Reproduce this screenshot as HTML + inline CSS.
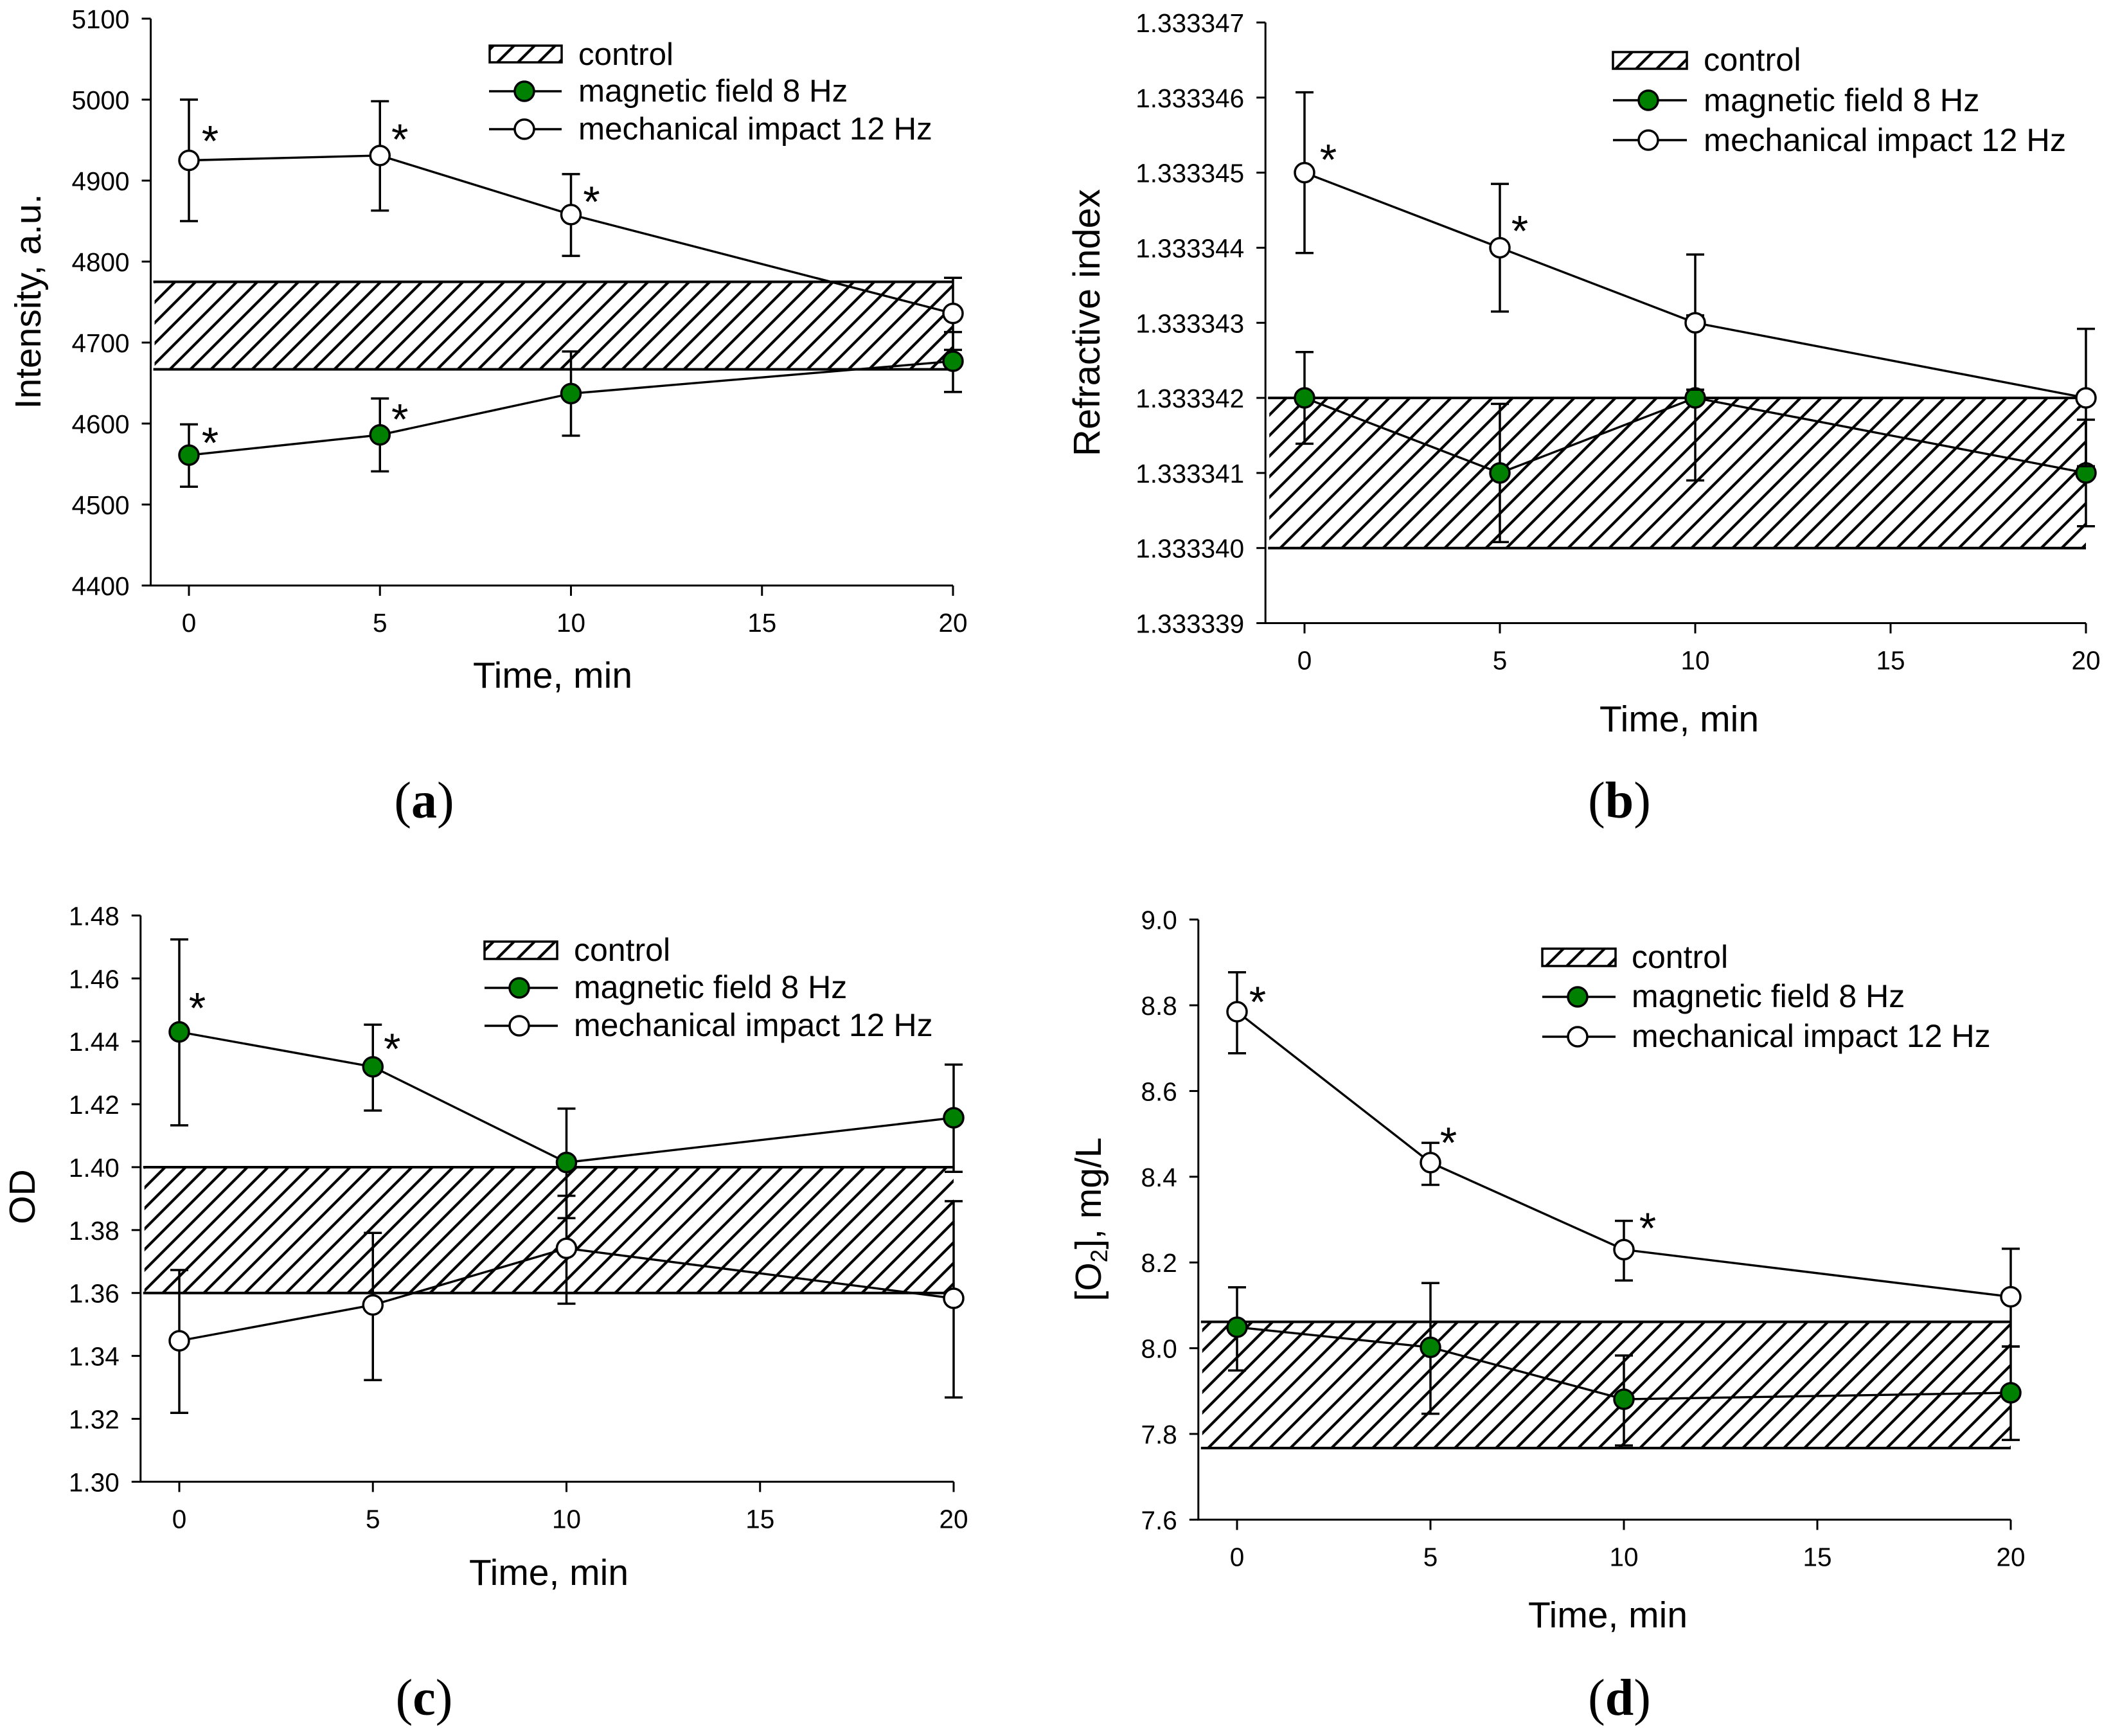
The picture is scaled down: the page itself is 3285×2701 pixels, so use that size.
<!DOCTYPE html>
<html lang="en">
<head>
<meta charset="utf-8">
<title>Time dependence of intensity, refractive index, OD and oxygen</title>
<style>
html,body{margin:0;padding:0;background:#fff;}
svg{display:block;}
text{font-family:"Liberation Sans",Arial,sans-serif;fill:#000;}
.legend{font-size:50px;}
.title{font-size:57px;}
.cap{font-family:"Liberation Serif",serif;font-size:80px;text-anchor:middle;}
.tick{font-size:40.5px;}
.star{font-size:68px;text-anchor:middle;}
</style>
</head>
<body>
<svg xmlns="http://www.w3.org/2000/svg" width="3285" height="2701" viewBox="0 0 3285 2701">
<defs>
<pattern id="hatch-a" patternUnits="userSpaceOnUse" width="32" height="32" patternTransform="translate(7,0)"><path d="M-4 4L4-4M0 32L32 0M28 36L36 28" stroke="#000" stroke-width="4.2" fill="none"/></pattern>
<pattern id="hatch-b" patternUnits="userSpaceOnUse" width="32" height="32" patternTransform="translate(29,0)"><path d="M-4 4L4-4M0 32L32 0M28 36L36 28" stroke="#000" stroke-width="4.2" fill="none"/></pattern>
<pattern id="hatch-c" patternUnits="userSpaceOnUse" width="32" height="32" patternTransform="translate(25,0)"><path d="M-4 4L4-4M0 32L32 0M28 36L36 28" stroke="#000" stroke-width="4.2" fill="none"/></pattern>
<pattern id="hatch-d" patternUnits="userSpaceOnUse" width="32" height="32" patternTransform="translate(5,0)"><path d="M-4 4L4-4M0 32L32 0M28 36L36 28" stroke="#000" stroke-width="4.2" fill="none"/></pattern>
</defs>
<rect width="3285" height="2701" fill="#fff"/>

<g>
  <g id="a-band"></g>
  <g id="a-axes"></g>
  <g id="a-first"></g>
  <g id="a-second"></g>
  <text class="title" x="63" y="469" text-anchor="middle" transform="rotate(-90 63 469)">Intensity, a.u.</text>
  <text class="title" x="860" y="1070" text-anchor="middle">Time, min</text>
  <g>
    <rect x="762" y="71" width="112" height="26" fill="url(#hatch-a)" stroke="#000" stroke-width="3.5"/>
    <text class="legend" x="900" y="101" style="font-size:49.3px">control</text>
    <line x1="761" x2="874" y1="142" y2="142" stroke="#000" stroke-width="3.5"/>
    <circle cx="816" cy="142" r="15" fill="#008000" stroke="#000" stroke-width="3.5"/>
    <text class="legend" x="900" y="158" style="font-size:49.3px">magnetic field 8 Hz</text>
    <line x1="761" x2="874" y1="201" y2="201" stroke="#000" stroke-width="3.5"/>
    <circle cx="816" cy="201" r="15" fill="#fff" stroke="#000" stroke-width="3.5"/>
    <text class="legend" x="900" y="217" style="font-size:49.3px">mechanical impact 12 Hz</text>
  </g>
  <text class="cap" x="660" y="1272">(<tspan font-weight="bold">a</tspan>)</text>
</g>

<g>
  <g id="b-band"></g>
  <g id="b-axes"></g>
  <g id="b-first"></g>
  <g id="b-second"></g>
  <text class="title" x="1711" y="502" text-anchor="middle" transform="rotate(-90 1711 502)" style="font-size:58px">Refractive index</text>
  <text class="title" x="2613" y="1138" text-anchor="middle">Time, min</text>
  <g>
    <rect x="2510" y="81" width="115" height="26" fill="url(#hatch-b)" stroke="#000" stroke-width="3.5"/>
    <text class="legend" x="2651" y="110" style="font-size:50.5px">control</text>
    <line x1="2510" x2="2625" y1="156" y2="156" stroke="#000" stroke-width="3.5"/>
    <circle cx="2565" cy="156" r="15" fill="#008000" stroke="#000" stroke-width="3.5"/>
    <text class="legend" x="2651" y="173" style="font-size:50.5px">magnetic field 8 Hz</text>
    <line x1="2510" x2="2625" y1="218" y2="218" stroke="#000" stroke-width="3.5"/>
    <circle cx="2565" cy="218" r="15" fill="#fff" stroke="#000" stroke-width="3.5"/>
    <text class="legend" x="2651" y="235" style="font-size:50.5px">mechanical impact 12 Hz</text>
  </g>
  <text class="cap" x="2520" y="1272">(<tspan font-weight="bold">b</tspan>)</text>
</g>

<g>
  <g id="c-band"></g>
  <g id="c-axes"></g>
  <g id="c-first"></g>
  <g id="c-second"></g>
  <text class="title" x="54" y="1862" text-anchor="middle" transform="rotate(-90 54 1862)">OD</text>
  <text class="title" x="854" y="2466" text-anchor="middle">Time, min</text>
  <g>
    <rect x="754" y="1465" width="113" height="27" fill="url(#hatch-c)" stroke="#000" stroke-width="3.5"/>
    <text class="legend" x="893" y="1495">control</text>
    <line x1="754" x2="868" y1="1537" y2="1537" stroke="#000" stroke-width="3.5"/>
    <circle cx="808" cy="1537" r="15" fill="#008000" stroke="#000" stroke-width="3.5"/>
    <text class="legend" x="893" y="1553">magnetic field 8 Hz</text>
    <line x1="754" x2="868" y1="1596" y2="1596" stroke="#000" stroke-width="3.5"/>
    <circle cx="808" cy="1596" r="15" fill="#fff" stroke="#000" stroke-width="3.5"/>
    <text class="legend" x="893" y="1612">mechanical impact 12 Hz</text>
  </g>
  <text class="cap" x="660" y="2668">(<tspan font-weight="bold">c</tspan>)</text>
</g>

<g>
  <g id="d-band"></g>
  <g id="d-axes"></g>
  <g id="d-first"></g>
  <g id="d-second"></g>
  <text class="title" x="1713" y="1897" text-anchor="middle" transform="rotate(-90 1713 1897)">[O<tspan font-size="37" dy="10">2</tspan><tspan dy="-10">], mg/L</tspan></text>
  <text class="title" x="2502" y="2532" text-anchor="middle">Time, min</text>
  <g>
    <rect x="2400" y="1476" width="114" height="27" fill="url(#hatch-d)" stroke="#000" stroke-width="3.5"/>
    <text class="legend" x="2539" y="1506">control</text>
    <line x1="2400" x2="2514" y1="1551" y2="1551" stroke="#000" stroke-width="3.5"/>
    <circle cx="2455" cy="1551" r="15" fill="#008000" stroke="#000" stroke-width="3.5"/>
    <text class="legend" x="2539" y="1567">magnetic field 8 Hz</text>
    <line x1="2400" x2="2514" y1="1613" y2="1613" stroke="#000" stroke-width="3.5"/>
    <circle cx="2455" cy="1613" r="15" fill="#fff" stroke="#000" stroke-width="3.5"/>
    <text class="legend" x="2539" y="1629">mechanical impact 12 Hz</text>
  </g>
  <text class="cap" x="2520" y="2668">(<tspan font-weight="bold">d</tspan>)</text>
</g>
</svg>

<script>
// Shared categories
const timeMinutes = [0, 5, 10, 20];
const xTickLabels = ["0", "5", "10", "15", "20"];

// Panel a: intensity
const aYTicks = ["4400", "4500", "4600", "4700", "4800", "4900", "5000", "5100"];
const aControl = [4667, 4775];
const aMagnetic = [4561, 4586, 4637, 4677];
const aMagneticUpper = [4599, 4631, 4689, 4713];
const aMagneticLower = [4522, 4541, 4585, 4639];
const aMagneticStars = [true, true, false, false];
const aMechanical = [4925, 4931, 4858, 4736];
const aMechanicalUpper = [5000, 4998, 4908, 4780];
const aMechanicalLower = [4850, 4863, 4807, 4691];
const aMechanicalStars = [true, true, true, false];

// Panel b: refractive index
const bYTicks = ["1.333339", "1.333340", "1.333341", "1.333342", "1.333343", "1.333344", "1.333345", "1.333346", "1.333347"];
const bControl = [1.33334, 1.333342];
const bMagnetic = [1.333342, 1.333341, 1.333342, 1.333341];
const bMagneticUpper = [1.33334261, 1.33334192, 1.3333431, 1.33334171];
const bMagneticLower = [1.33334139, 1.33334008, 1.3333409, 1.33334029];
const bMagneticStars = [false, false, false, false];
const bMechanical = [1.333345, 1.333344, 1.333343, 1.333342];
const bMechanicalUpper = [1.33334607, 1.33334485, 1.33334391, 1.33334292];
const bMechanicalLower = [1.33334393, 1.33334315, 1.33334211, 1.33334109];
const bMechanicalStars = [true, true, false, false];

// Panel c: optical density
const cYTicks = ["1.30", "1.32", "1.34", "1.36", "1.38", "1.40", "1.42", "1.44", "1.46", "1.48"];
const cControl = [1.36, 1.40];
const cMagnetic = [1.443, 1.4319, 1.4015, 1.4157];
const cMagneticUpper = [1.4724, 1.4453, 1.4186, 1.4326];
const cMagneticLower = [1.4133, 1.418, 1.3838, 1.3985];
const cMagneticStars = [true, true, false, false];
const cMechanical = [1.3448, 1.3562, 1.3742, 1.3583];
const cMechanicalUpper = [1.3673, 1.3791, 1.3909, 1.3892];
const cMechanicalLower = [1.3219, 1.3323, 1.3566, 1.3268];
const cMechanicalStars = [false, false, false, false];

// Panel d: dissolved oxygen
const dYTicks = ["7.6", "7.8", "8.0", "8.2", "8.4", "8.6", "8.8", "9.0"];
const dControl = [7.767, 8.0615];
const dMagnetic = [8.049, 8.002, 7.881, 7.896];
const dMagneticUpper = [8.142, 8.152, 7.983, 8.004];
const dMagneticLower = [7.948, 7.847, 7.773, 7.786];
const dMagneticStars = [false, false, false, false];
const dMechanical = [8.785, 8.433, 8.23, 8.12];
const dMechanicalUpper = [8.877, 8.479, 8.297, 8.232];
const dMechanicalLower = [8.688, 8.381, 8.158, 8.004];
const dMechanicalStars = [true, true, true, false];

const NS = "http://www.w3.org/2000/svg";
function svgEl(tag, attrs, parent) {
  const el = document.createElementNS(NS, tag);
  for (const k in attrs) el.setAttribute(k, attrs[k]);
  parent.appendChild(el);
  return el;
}

function drawSeries(group, scale, s) {
  const { x, y } = scale;
  s.values.forEach(function (_, i) {
    const cx = x(timeMinutes[i]);
    const bar = svgEl("path", { d: "M" + cx + " " + y(s.upper[i]) + "V" + y(s.lower[i]) + "M" + (cx - 14) + " " + y(s.upper[i]) + "h28M" + (cx - 14) + " " + y(s.lower[i]) + "h28", stroke: "#000", "stroke-width": 3.5, fill: "none" }, group);
    
    
  });
  const points = s.values.map(function (v, i) { return x(timeMinutes[i]) + "," + y(v); }).join(" ");
  const line = svgEl("polyline", { points: points, stroke: "#000", "stroke-width": 3.4, fill: "none" }, group);
  
  
  s.values.forEach(function (v, i) {
    const dot = svgEl("circle", { cx: x(timeMinutes[i]), cy: y(v), r: 15, fill: s.fill, stroke: "#000", "stroke-width": 3.5 }, group);
    
    
    if (s.stars[i]) {
      const nudge = s.starNudge[i];
      const star = svgEl("text", { class: "star", x: x(timeMinutes[i]) + nudge[0], y: y(v) + nudge[1] + 31 }, group);
      star.textContent = "*";
      
      
    }
  });
}

function drawPanel(p) {
  const xLeft = p.x0 - (p.x20 - p.x0) / 20;
  const yMin = parseFloat(p.yTicks[0]);
  const yMax = parseFloat(p.yTicks[p.yTicks.length - 1]);
  const scale = {
    x: function (t) { return p.x0 + (p.x20 - p.x0) * t / 20; },
    y: function (v) { return p.yBottom - (p.yBottom - p.yTop) * (v - yMin) / (yMax - yMin); }
  };
  const bandG = document.getElementById(p.id + "-band");
  const axesG = document.getElementById(p.id + "-axes");
  const bandTop = scale.y(p.control[1]);
  const bandBottom = scale.y(p.control[0]);
  const bandFill = svgEl("rect", { x: xLeft + 6, y: bandTop, width: p.x20 - xLeft - 6, height: bandBottom - bandTop, fill: "url(#hatch-" + p.id + ")" }, bandG);
  
  
  const bandEdges = svgEl("path", { d: "M" + (xLeft + 4) + " " + bandTop + "H" + p.x20 + "M" + (xLeft + 4) + " " + bandBottom + "H" + p.x20, stroke: "#000", "stroke-width": 4, fill: "none" }, bandG);
  
  

  const axisLines = svgEl("path", { d: "M" + xLeft + " " + p.yTop + "V" + p.yBottom + "H" + p.x20, stroke: "#000", "stroke-width": 3, fill: "none" }, axesG);
  
  

  p.yTicks.forEach(function (label) {
    const ty = scale.y(parseFloat(label));
    const tick = svgEl("line", { x1: xLeft - 14, x2: xLeft, y1: ty, y2: ty, stroke: "#000", "stroke-width": 3 }, axesG);
    
    
    const text = svgEl("text", { class: "tick", x: xLeft - 33, y: ty + 15, "text-anchor": "end" }, axesG);
    text.textContent = label;
    
    
  });
  xTickLabels.forEach(function (label) {
    const tx = scale.x(parseFloat(label));
    const tick = svgEl("line", { x1: tx, x2: tx, y1: p.yBottom, y2: p.yBottom + 16, stroke: "#000", "stroke-width": 3 }, axesG);
    
    
    const text = svgEl("text", { class: "tick", x: tx, y: p.yBottom + 72, "text-anchor": "middle" }, axesG);
    text.textContent = label;
    
    
  });

  p.series.forEach(function (s, i) {
    const group = document.getElementById(p.id + (i === 0 ? "-first" : "-second"));
    drawSeries(group, scale, s);
  });
}

const GREEN = "#008000";
const WHITE = "#ffffff";
drawPanel({ id: "a", x0: 294, x20: 1483, yTop: 29, yBottom: 911, yTicks: aYTicks, control: aControl, series: [
  { values: aMagnetic, upper: aMagneticUpper, lower: aMagneticLower, stars: aMagneticStars, fill: GREEN, starNudge: [[33, -27], [31, -32]] },
  { values: aMechanical, upper: aMechanicalUpper, lower: aMechanicalLower, stars: aMechanicalStars, fill: WHITE, starNudge: [[33, -38], [31, -33], [32, -28]] } ] });
drawPanel({ id: "b", x0: 2030, x20: 3246, yTop: 35, yBottom: 969.5, yTicks: bYTicks, control: bControl, series: [
  { values: bMagnetic, upper: bMagneticUpper, lower: bMagneticLower, stars: bMagneticStars, fill: GREEN, starNudge: [] },
  { values: bMechanical, upper: bMechanicalUpper, lower: bMechanicalLower, stars: bMechanicalStars, fill: WHITE, starNudge: [[37, -28], [31, -34]] } ] });
drawPanel({ id: "c", x0: 279, x20: 1484, yTop: 1424.4, yBottom: 2305.4, yTicks: cYTicks, control: cControl, series: [
  { values: cMagnetic, upper: cMagneticUpper, lower: cMagneticLower, stars: cMagneticStars, fill: GREEN, starNudge: [[28, -45], [30, -36]] },
  { values: cMechanical, upper: cMechanicalUpper, lower: cMechanicalLower, stars: cMechanicalStars, fill: WHITE, starNudge: [] } ] });
drawPanel({ id: "d", x0: 1925, x20: 3129, yTop: 1430.7, yBottom: 2364.4, yTicks: dYTicks, control: dControl, series: [
  { values: dMechanical, upper: dMechanicalUpper, lower: dMechanicalLower, stars: dMechanicalStars, fill: WHITE, starNudge: [[32, -23], [28, -39], [37, -41]] },
  { values: dMagnetic, upper: dMagneticUpper, lower: dMagneticLower, stars: dMagneticStars, fill: GREEN, starNudge: [] } ] });
</script>
</body>
</html>
